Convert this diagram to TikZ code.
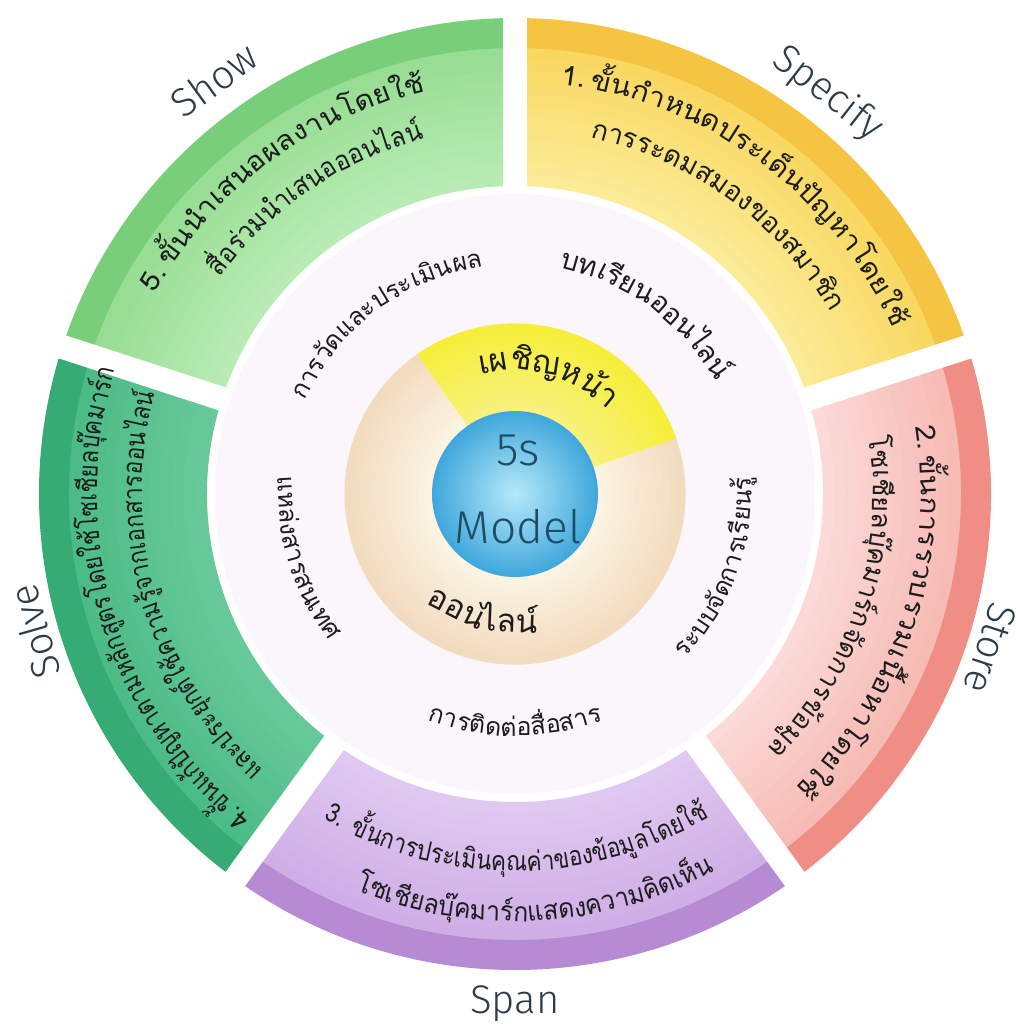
\documentclass[tikz,border=0pt]{standalone}
\usepackage{fontspec}
\newfontfamily\thaifont[Script=Thai]{Loma}
\newfontfamily\thaiwide[Script=Thai,FakeStretch=1.1]{Loma}
\newfontfamily\thaisemi[Script=Thai,FakeStretch=0.92]{Loma}
\newfontfamily\thaicond[Script=Thai,FakeStretch=0.84]{Loma}
\IfFontExistsTF{Fira Sans Light}
  {\newfontfamily\labelfont{Fira Sans Light}}
  {\newfontfamily\labelfont{Carlito}}

\definecolor{specifylight}{HTML}{FCEC97}
\definecolor{specifymid}{HTML}{F9D862}
\definecolor{specifyedge}{HTML}{F5C443}
\definecolor{storelight}{HTML}{FBDAD7}
\definecolor{storemid}{HTML}{F7BBB5}
\definecolor{storeedge}{HTML}{F08D84}
\definecolor{spanlight}{HTML}{E0C9F1}
\definecolor{spanmid}{HTML}{CFAEE6}
\definecolor{spanedge}{HTML}{B68BD3}
\definecolor{solvelight}{HTML}{67C999}
\definecolor{solvemid}{HTML}{4CBC87}
\definecolor{solveedge}{HTML}{36AB74}
\definecolor{showlight}{HTML}{B8ECB4}
\definecolor{showmid}{HTML}{97DD93}
\definecolor{showedge}{HTML}{79CF79}
\definecolor{palering}{HTML}{FBF6FB}
\definecolor{beigelight}{HTML}{FCF3E3}
\definecolor{beigedark}{HTML}{F2DCBF}
\definecolor{yellowlight}{HTML}{F8F27C}
\definecolor{yellowmain}{HTML}{F6EE3A}
\definecolor{bluelight}{HTML}{B5E9FA}
\definecolor{bluedark}{HTML}{3FA7DB}
\definecolor{labelgray}{HTML}{2E3C48}
\definecolor{coreblue}{HTML}{1E4D63}
\definecolor{ink}{HTML}{1C1C1C}

\newcommand\stepfont{\thaifont\fontsize{27}{32}\selectfont}
\newcommand\widestepfont{\thaiwide\fontsize{27}{32}\selectfont}
\newcommand\semistepfont{\thaisemi\fontsize{27}{32}\selectfont}
\newcommand\condstepfont{\thaicond\fontsize{27}{32}\selectfont}
\newcommand\ringfont{\thaifont\fontsize{25}{30}\selectfont}
\newcommand\bigringfont{\thaifont\fontsize{28}{33}\selectfont}
\newcommand\corefont{\thaifont\fontsize{32}{38}\selectfont}

% annular piece: colour, start angle, end angle, inner radius, outer radius
\newcommand\ringpart[5]{%
  \fill[#1] (#2:#4pt) arc[start angle=#2,end angle=#3,radius=#4pt]
    -- (#3:#5pt) arc[start angle=#3,end angle=#2,radius=#5pt] -- cycle;}
% same piece, light inside and darker outside
\newcommand\ringfade[6]{%
  \foreach \k in {0,...,11}{%
    \pgfmathsetmacro\ra{#5+(#6-#5)*\k/12}%
    \pgfmathsetmacro\rb{#5+(#6-#5)*(\k+1)/12+0.6}%
    \pgfmathtruncatemacro\mix{100-\k*100/11}%
    \ringpart{#1!\mix!#2}{#3}{#4}{\ra}{\rb}}}

% words set along a circle: name, font, baseline radius, mid angle, direction (-1 clockwise, 1 counter), syllables
\newlength\chunkwd
\newsavebox\chunkbox
\newcommand\measurechunk[2]{%
  \pgfinterruptpicture\global\setbox\chunkbox\hbox{#1#2}\endpgfinterruptpicture
  \chunkwd=\wd\chunkbox}
\newcommand\arcwords[6]{%
  \gdef\arcsum{0}%
  \foreach \w in {#6}{%
    \measurechunk{#2}{\w}%
    \pgfmathsetmacro\arcsum{\arcsum+\chunkwd}%
    \global\let\arcsum\arcsum}%
  \pgfmathsetmacro\arcnow{#4-(#5)*(\arcsum/#3)*90/pi}%
  \global\let\arcnow\arcnow
  \foreach \w [count=\i] in {#6}{%
    \measurechunk{#2}{\w}%
    \pgfmathsetmacro\arcmid{\arcnow+(#5)*(\chunkwd/#3)*90/pi}%
    \pgfmathsetmacro\arcrot{\arcmid+(#5)*90}%
    \node[word,rotate=\arcrot] (#1-\i) at (\arcmid:#3pt) {#2\w};
    \pgfmathsetmacro\arcnow{\arcnow+(#5)*(\chunkwd/#3)*180/pi}%
    \global\let\arcnow\arcnow}%
}

\begin{document}
\begin{tikzpicture}[x=1pt,y=1pt,
    word/.style={anchor=base,inner sep=0pt,text=ink},
    stage/.style={font=\labelfont\fontsize{40}{48}\selectfont,text=labelgray,inner sep=0pt},
    core/.style={font=\labelfont\fontsize{46}{54}\selectfont,text=coreblue,inner sep=0pt}]
    \useasboundingbox (-515,-537) rectangle (504,494);

    % Outer ring
    \ringfade{specifylight}{specifymid}{18}{90}{308}{446}
    \ringpart{specifyedge}{18}{90}{446}{476}
    \ringfade{storelight}{storemid}{-54}{18}{308}{446}
    \ringpart{storeedge}{-54}{18}{446}{476}
    \ringfade{spanlight}{spanmid}{234}{306}{308}{446}
    \ringpart{spanedge}{234}{306}{446}{476}
    \ringfade{solvelight}{solvemid}{162}{234}{308}{446}
    \ringpart{solveedge}{162}{234}{446}{476}
    \ringfade{showlight}{showmid}{90}{162}{308}{446}
    \ringpart{showedge}{90}{162}{446}{476}
    \foreach \a in {18,90,162,234,306}
        \draw[white,line width=24pt] (\a:296pt) -- (\a:492pt);

    % Middle ring
    \fill[palering] (0,0) circle[radius=300pt];

    % Inner ring
    \ringfade{beigelight}{beigedark}{125}{379}{83}{170}
    \ringfade{yellowlight}{yellowmain}{19}{125}{83}{170}
    \shade[inner color=bluelight,outer color=bluedark] (0,0) circle[radius=83pt];
    \node[core] (five) at (3,44) {5s};
    \node[core] (model) at (3,-33) {Model};

    % Stage names
    \node[stage,rotate=-38] (specify) at (52:508pt) {Specify};
    \node[stage,rotate=-108] (store) at (-18:500pt) {Store};
    \node[stage] (span) at (270:510pt) {Span};
    \node[stage,rotate=106] (solve) at (196:500pt) {Solve};
    \node[stage,rotate=36] (show) at (126:512pt) {Show};

    % Stage texts
    \arcwords{sa}{\widestepfont}{412}{54}{-1}{1.~,ขั้น,กำ,หนด,ประ,เด็น,ปัญ,หา,โดย,ใช้}
    \arcwords{sb}{\stepfont}{364}{54}{-1}{การ,ระ,ดม,ส,มอง,ของ,ส,มา,ชิก}
    \arcwords{ta}{\widestepfont}{406}{-18}{-1}{2.~,ขั้น,การ,รวบ,รวม,เนื้อ,หา,โดย,ใช้}
    \arcwords{tb}{\stepfont}{358}{-18}{-1}{โซ,เชียล,บุ๊ค,มาร์ก,จัด,การ,ข้อ,มูล}
    \arcwords{pa}{\condstepfont}{377}{270}{1}{3.~~,ขั้น,การ,ประ,เมิน,คุณ,ค่า,ของ,ข้อ,มูล,โดย,ใช้}
    \arcwords{pb}{\semistepfont}{427}{273}{1}{โซ,เชียล,บุ๊ค,มาร์ก,แสดง,ความ,คิด,เห็น}
    \arcwords{va}{\condstepfont}{418}{197}{-1}{4.~,ขั้น,แก้,ปัญ,หา,ตาม,หลัก,สูตร,โดย,ใช้,โซ,เชียล,บุ๊ค,มาร์ก}
    \arcwords{vb}{\condstepfont}{373}{196}{-1}{และ,ประ,ยุกต์,ใช้,ความ,รู้,จาก,เอก,สาร,ออน,ไลน์}
    \arcwords{wa}{\widestepfont}{412}{127}{-1}{5.~,ขั้น,นำ,เสนอ,ผล,งาน,โดย,ใช้}
    \arcwords{wb}{\semistepfont}{366}{124}{-1}{สื่อ,ร่วม,นำ,เสนอ,ออน,ไลน์}

    % Middle ring texts
    \arcwords{ma}{\bigringfont}{230}{54}{-1}{บท,เรียน,ออน,ไลน์}
    \arcwords{mb}{\ringfont}{229}{127}{-1}{การ,วัด,และ,ประ,เมิน,ผล}
    \arcwords{mc}{\ringfont}{236}{197}{1}{แหล่ง,สาร,สน,เทศ}
    \arcwords{md}{\ringfont}{242}{270}{1}{การ,ติด,ต่อ,สื่อ,สาร}
    \arcwords{me}{\ringfont}{236}{-20}{1}{ระ,บบ,จัด,การ,เรียน,รู้}

    % Inner ring texts
    \arcwords{ia}{\corefont}{124}{74}{-1}{เผ,ชิญ,ห,น้า}
    \arcwords{ib}{\corefont}{138}{255}{1}{ออน,ไลน์}
\end{tikzpicture}
\end{document}
